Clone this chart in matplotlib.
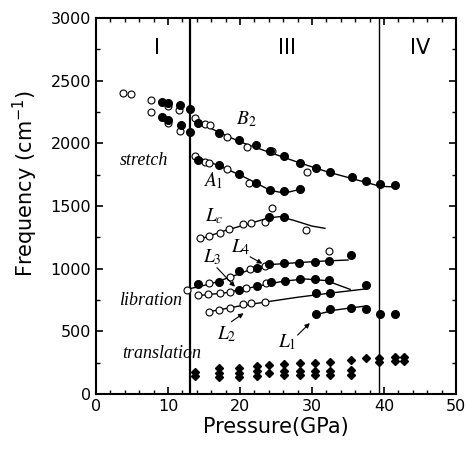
import numpy as np
import matplotlib.pyplot as plt

# phase boundaries (GPa)
boundaries = [13.1, 39.3]

# phase I
ph1_open_p = [3.8, 4.9, 7.7, 7.7, 10.0, 10.0, 11.5, 11.6]
ph1_open_f = [2400, 2390, 2346, 2248, 2298, 2160, 2266, 2098]
ph1_fill_p = [9.1, 10.0, 9.1, 10.0, 11.7, 11.8, 13.1, 13.1]
ph1_fill_f = [2333, 2320, 2213, 2187, 2304, 2146, 2272, 2094]

# B2 stretch
b2_open_p = [13.7, 15.1, 15.8, 18.2, 21.0, 24.5, 29.3]
b2_open_f = [2200, 2155, 2147, 2053, 1968, 1935, 1769]
b2_fill_p = [14.1, 17.1, 19.8, 22.2, 24.2, 26.1, 28.3, 30.5, 32.5, 35.5, 37.5, 39.5, 41.5]
b2_fill_f = [2160, 2085, 2024, 1984, 1942, 1899, 1846, 1806, 1771, 1734, 1702, 1676, 1668]
b2_fit_p = [13.7, 17.0, 20.0, 24.0, 28.0, 32.0, 36.0, 39.5, 41.8]
b2_fit_f = [2185, 2090, 2012, 1930, 1850, 1775, 1712, 1657, 1652]

# A1 stretch
a1_open_p = [13.7, 15.1, 15.7, 18.2, 21.2]
a1_open_f = [1899, 1854, 1846, 1793, 1686]
a1_fill_p = [14.1, 17.1, 19.8, 22.2, 24.2, 26.1, 28.3]
a1_fill_f = [1867, 1827, 1756, 1681, 1628, 1620, 1633]
a1_fit_p = [13.7, 17.0, 20.0, 22.0, 24.2, 26.2, 28.3]
a1_fit_f = [1900, 1822, 1748, 1690, 1625, 1603, 1633]

# Lc libration
lc_open_p = [14.4, 15.7, 17.2, 18.5, 20.4, 21.5, 23.5, 24.5, 29.2]
lc_open_f = [1242, 1261, 1287, 1317, 1354, 1362, 1375, 1482, 1309]
lc_fill_p = [24.1, 26.1]
lc_fill_f = [1415, 1410]
lc_fit_p = [14.4, 18.0, 21.0, 24.0, 25.5, 27.5, 30.0, 31.8]
lc_fit_f = [1235, 1305, 1355, 1405, 1415, 1385, 1340, 1322]

# L4
l4_open_p = [12.7, 15.7, 18.6, 21.4, 23.5, 32.4]
l4_open_f = [830, 883, 937, 997, 1020, 1144]
l4_fill_p = [14.2, 17.1, 19.9, 22.3, 24.1, 26.1, 28.2, 30.4, 32.4, 35.4]
l4_fill_f = [875, 891, 981, 1008, 1034, 1045, 1046, 1050, 1064, 1112]
l4_fit_p = [13.0, 16.0, 19.0, 22.0, 24.0, 28.0, 32.0, 35.0]
l4_fit_f = [840, 880, 940, 1005, 1032, 1048, 1062, 1069]

# L3
l3_open_p = [14.2, 15.6, 17.2, 18.6, 20.9, 23.6]
l3_open_f = [790, 795, 803, 811, 843, 885]
l3_fill_p = [19.9, 22.4, 24.3, 26.2, 28.3, 30.4, 32.4]
l3_fill_f = [830, 864, 891, 902, 920, 920, 910]
l3_fit_p = [14.2, 18.0, 22.0, 26.0, 29.0, 32.0, 35.3]
l3_fit_f = [785, 808, 855, 900, 918, 905, 835]

# L2
l2_open_p = [15.7, 17.1, 18.6, 20.4, 21.5, 23.5]
l2_open_f = [657, 670, 684, 716, 724, 735]
l2_fill_p = [30.5, 32.5, 37.5]
l2_fill_f = [808, 808, 866]
l2_fit_p = [15.7, 20.0, 24.0, 28.0, 32.5, 37.4]
l2_fit_f = [657, 703, 738, 772, 805, 838]

# L1
l1_fill_p = [30.5, 32.5, 35.4, 37.5, 39.4, 41.5]
l1_fill_f = [638, 676, 690, 676, 638, 638]
l1_fit_p = [30.5, 33.0, 35.5, 37.5]
l1_fit_f = [632, 668, 688, 702]

# translation modes
tr_p = [13.7, 13.7, 17.1, 17.1, 17.1, 19.9, 19.9, 19.9, 22.4, 22.4, 22.4,
        24.1, 24.1, 26.1, 26.1, 26.1, 28.3, 28.3, 28.3, 30.4, 30.4, 30.4,
        32.5, 32.5, 32.5, 35.4, 35.4, 35.4, 37.5, 39.3, 39.3, 41.5, 41.5, 42.8, 42.8]
tr_f = [178, 144, 205, 170, 138, 205, 170, 138, 225, 182, 145,
        235, 170, 240, 185, 150, 245, 185, 150, 248, 185, 150,
        252, 185, 150, 270, 188, 155, 285, 285, 255, 298, 265, 298, 265]

fig = plt.figure(figsize=(4.65, 4.5), dpi=100)
ax = fig.add_axes([0.2065, 0.1244, 0.774, 0.8356])

for b, lw in zip(boundaries, [1.6, 1.0]):
    ax.axvline(b, color='black', lw=lw, zorder=1)

fits = [(b2_fit_p, b2_fit_f), (a1_fit_p, a1_fit_f), (lc_fit_p, lc_fit_f),
        (l4_fit_p, l4_fit_f), (l3_fit_p, l3_fit_f), (l2_fit_p, l2_fit_f),
        (l1_fit_p, l1_fit_f)]
for px, fy in fits:
    ax.plot(px, fy, color='black', lw=1.0, zorder=2)

open_sets = [(ph1_open_p, ph1_open_f), (b2_open_p, b2_open_f), (a1_open_p, a1_open_f),
             (lc_open_p, lc_open_f), (l4_open_p, l4_open_f), (l3_open_p, l3_open_f),
             (l2_open_p, l2_open_f)]
fill_sets = [(ph1_fill_p, ph1_fill_f), (b2_fill_p, b2_fill_f), (a1_fill_p, a1_fill_f),
             (lc_fill_p, lc_fill_f), (l4_fill_p, l4_fill_f), (l3_fill_p, l3_fill_f),
             (l2_fill_p, l2_fill_f), (l1_fill_p, l1_fill_f)]
for px, fy in open_sets:
    ax.plot(px, fy, 'o', ms=5, mfc='white', mec='black', mew=0.8, zorder=3)
for px, fy in fill_sets:
    ax.plot(px, fy, 'o', ms=5.5, color='black', zorder=4)
ax.plot(tr_p, tr_f, 'D', ms=3.8, color='black', zorder=4)

# phase labels
for txt, xp in [('I', 8.5), ('III', 26.5), ('IV', 45.0)]:
    ax.text(xp, 2760, txt, ha='center', va='center', fontsize=15)

serif = dict(family='Liberation Serif', style='italic', fontsize=13)
ax.text(6.6, 1860, 'stretch', ha='center', va='center', **serif)
ax.text(7.6, 750, 'libration', ha='center', va='center', **serif)
ax.text(9.1, 320, 'translation', ha='center', va='center', **serif)

ax.text(19.5, 2190, r'$B_2$', ha='left', va='center', fontsize=14, math_fontfamily='stix')
ax.text(14.9, 1700, r'$A_1$', ha='left', va='center', fontsize=14, math_fontfamily='stix')
ax.text(15.1, 1420, r'$L_c$', ha='left', va='center', fontsize=14, math_fontfamily='stix')
ax.text(18.8, 1170, r'$L_4$', ha='left', va='center', fontsize=14, math_fontfamily='stix')
ax.text(14.9, 1090, r'$L_3$', ha='left', va='center', fontsize=14, math_fontfamily='stix')
ax.text(16.8, 480, r'$L_2$', ha='left', va='center', fontsize=14, math_fontfamily='stix')
ax.text(25.3, 410, r'$L_1$', ha='left', va='center', fontsize=14, math_fontfamily='stix')

arrows = [((21.4, 1095), (23.1, 1040)), ((16.8, 1008), (19.3, 856)),
          ((18.8, 577), (20.5, 644)), ((28.0, 470), (29.7, 566))]
for start, end in arrows:
    ax.annotate('', xy=end, xytext=start,
                arrowprops=dict(arrowstyle='-|>', color='black', lw=0.8,
                                mutation_scale=7, shrinkA=0, shrinkB=0))

ax.set_xlim(0, 50)
ax.set_ylim(0, 3000)
ax.set_xticks(np.arange(0, 51, 10))
ax.set_xticks(np.arange(0, 51, 2), minor=True)
ax.set_yticks(np.arange(0, 3001, 500))
ax.set_yticks(np.arange(0, 3001, 250), minor=True)
ax.tick_params(which='both', direction='in', top=True, right=True, labelsize=11.5)
ax.tick_params(which='major', length=5, width=1.2)
ax.tick_params(which='minor', length=3, width=1.0)
for s in ax.spines.values():
    s.set_linewidth(1.5)

ax.set_xlabel('Pressure(GPa)', fontsize=15, labelpad=2)
ax.set_ylabel(r'Frequency (cm$^{\mathregular{-1}}$)', fontsize=15)
ax.yaxis.set_label_coords(-0.155, 0.56)

fig.savefig('out.png', dpi=100)
